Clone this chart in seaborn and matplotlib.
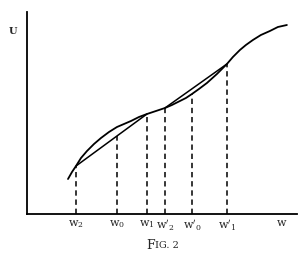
import matplotlib
matplotlib.use("Agg")
import matplotlib.pyplot as plt
import seaborn as sns
import pandas as pd

# Utility curve
curve_w = [41, 45, 49, 54, 60, 67, 74, 82, 90, 97, 104, 112, 120, 129, 138, 145,
           153, 159, 165, 172, 180, 190, 200, 206, 213, 219, 226, 234, 243, 251, 260]
curve_u = [35, 42, 48, 56, 63, 70, 76, 82, 87, 90, 93, 97, 100, 103, 106, 109,
           113, 116, 120, 125, 131, 140, 150, 157, 164, 169, 174, 179, 183, 187, 189]

# Chords
chord1_w = [49, 120]
chord1_u = [48, 100]
chord2_w = [138, 200]
chord2_u = [106, 150]

# Dashed verticals
tick_w = [49, 90, 120, 138, 165, 200]
tick_top = [48, 78, 100, 106, 120, 150]
tick_labels = [r"$\mathrm{w}_2$", r"$\mathrm{w}_0$", r"$\mathrm{w}_1$",
               r"$\mathrm{w}'_2$", r"$\mathrm{w}'_0$", r"$\mathrm{w}'_1$"]

sns.set_style("white")
plt.rcParams["mathtext.fontset"] = "dejavuserif"
plt.rcParams["font.family"] = ["DejaVu Serif"]

fig = plt.figure(figsize=(3.07, 2.58), dpi=100)
ax = fig.add_axes([0.088, 0.1705, 0.879, 0.783])

df = pd.DataFrame({"w": curve_w, "u": curve_u})
sns.lineplot(data=df, x="w", y="u", ax=ax, color="black", linewidth=1.3, sort=False)
sns.lineplot(x=chord1_w, y=chord1_u, ax=ax, color="black", linewidth=1.1)
sns.lineplot(x=chord2_w, y=chord2_u, ax=ax, color="black", linewidth=1.1)

ax.vlines(tick_w, 0, tick_top, colors="black", linestyles=(0, (3.5, 2.5)), linewidth=1.1)

ax.set_xlim(0, 270)
ax.set_ylim(0, 202)
for s in ["top", "right"]:
    ax.spines[s].set_visible(False)
for s in ["left", "bottom"]:
    ax.spines[s].set_color("black")
    ax.spines[s].set_linewidth(1.3)
ax.set_xticks([])
ax.set_yticks([])
ax.set_xlabel("")
ax.set_ylabel("")

for x, lab in zip(tick_w, tick_labels):
    ax.text(x, -4, lab, ha="center", va="top", fontsize=8, clip_on=False)
ax.text(255, -4, r"$\mathrm{w}$", ha="center", va="top", fontsize=8, clip_on=False)
ax.text(-14, 182, "U", ha="center", va="center", fontsize=7, fontweight="bold",
        clip_on=False)

fig.text(0.505, 0.05, "F", ha="right", va="center", fontsize=9)
fig.text(0.505, 0.05, "IG. 2", ha="left", va="center", fontsize=7)

fig.savefig("out.png", dpi=100)
